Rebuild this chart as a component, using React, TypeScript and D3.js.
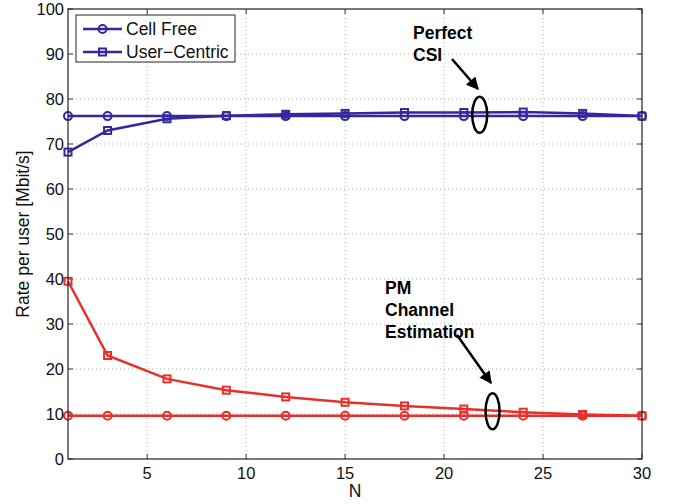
import React from 'react';
import * as d3 from 'd3';

// N values where points were computed
const nValues = [1, 3, 6, 9, 12, 15, 18, 21, 24, 27, 30];

// Perfect CSI
const cellFreePerfect = [76.2, 76.2, 76.2, 76.2, 76.2, 76.2, 76.2, 76.2, 76.2, 76.2, 76.2];
const userCentricPerfect = [68.2, 73.0, 75.6, 76.3, 76.6, 76.8, 77.0, 77.0, 77.1, 76.8, 76.2];

// PM channel estimation
const cellFreePM = [9.6, 9.6, 9.6, 9.6, 9.6, 9.6, 9.6, 9.6, 9.6, 9.6, 9.6];
const userCentricPM = [39.5, 23.0, 17.8, 15.3, 13.8, 12.6, 11.8, 11.1, 10.4, 9.9, 9.6];

const xTicks = [5, 10, 15, 20, 25, 30];
const yTicks = [0, 10, 20, 30, 40, 50, 60, 70, 80, 90, 100];

const BLUE = '#3428a0';
const RED = '#e8302b';

const W = 673;
const H = 504;
const margin = { left: 68, right: 31, top: 9, bottom: 45 };

export default function App() {
  const x = d3.scaleLinear().domain([1, 30]).range([margin.left, W - margin.right]);
  const y = d3.scaleLinear().domain([0, 100]).range([H - margin.bottom, margin.top]);

  const line = d3
    .line<number>()
    .x((_, i) => x(nValues[i]))
    .y((d) => y(d));

  const font = '"Liberation Sans", Arial, Helvetica, sans-serif';

  const series = [
    { vals: cellFreePerfect, color: BLUE, marker: 'o' },
    { vals: userCentricPerfect, color: BLUE, marker: 's' },
    { vals: cellFreePM, color: RED, marker: 'o' },
    { vals: userCentricPM, color: RED, marker: 's' },
  ];

  const marker = (kind: string, cx: number, cy: number, color: string, key: string) =>
    kind === 'o' ? (
      <circle key={key} cx={cx} cy={cy} r={4} fill="none" stroke={color} strokeWidth={2} />
    ) : (
      <rect key={key} x={cx - 3.5} y={cy - 3.5} width={7} height={7} fill="none" stroke={color} strokeWidth={2} />
    );

  const x0 = margin.left;
  const x1 = W - margin.right;
  const y0 = H - margin.bottom;
  const y1 = margin.top;

  return (
    <svg
      width={W}
      height={H}
      style={{ position: 'absolute', left: 0, top: 0, background: '#fff' }}
      fontFamily={font}
    >
      {/* grid */}
      <g stroke="#b0b0b0" strokeWidth={1} strokeDasharray="1,3">
        {xTicks.filter((t) => t < 30).map((t) => (
          <line key={'gx' + t} x1={x(t)} x2={x(t)} y1={y0} y2={y1} />
        ))}
        {yTicks.filter((t) => t > 0 && t < 100).map((t) => (
          <line key={'gy' + t} x1={x0} x2={x1} y1={y(t)} y2={y(t)} />
        ))}
      </g>

      {/* tick marks (inside, on all four sides) */}
      <g stroke="#333" strokeWidth={1}>
        {xTicks.map((t) => (
          <g key={'tx' + t}>
            <line x1={x(t)} x2={x(t)} y1={y0} y2={y0 - 5} />
            <line x1={x(t)} x2={x(t)} y1={y1} y2={y1 + 5} />
          </g>
        ))}
        {yTicks.map((t) => (
          <g key={'ty' + t}>
            <line x1={x0} x2={x0 + 5} y1={y(t)} y2={y(t)} />
            <line x1={x1} x2={x1 - 5} y1={y(t)} y2={y(t)} />
          </g>
        ))}
      </g>

      {/* data */}
      {series.map((s, si) => (
        <g key={'s' + si}>
          <path d={line(s.vals) ?? ''} fill="none" stroke={s.color} strokeWidth={2.5} />
          {s.vals.map((v, i) => marker(s.marker, x(nValues[i]), y(v), s.color, `m${si}-${i}`))}
        </g>
      ))}

      {/* axes box */}
      <rect x={x0} y={y1} width={x1 - x0} height={y0 - y1} fill="none" stroke="#222" strokeWidth={1.2} />

      {/* tick labels */}
      <g fontSize={16.5} fill="#111">
        {xTicks.map((t) => (
          <text key={'lx' + t} x={x(t)} y={y0 + 20} textAnchor="middle">
            {t}
          </text>
        ))}
        {yTicks.map((t) => (
          <text key={'ly' + t} x={x0 - 4} y={y(t) + 6} textAnchor="end">
            {t}
          </text>
        ))}
      </g>

      {/* axis labels */}
      <text x={(x0 + x1) / 2} y={H - 7} fontSize={17.5} textAnchor="middle" fill="#111">
        N
      </text>
      <text
        transform={`translate(29,${(y0 + y1) / 2}) rotate(-90)`}
        fontSize={17.5}
        textAnchor="middle"
        fill="#111"
      >
        Rate per user [Mbit/s]
      </text>

      {/* legend */}
      <g>
        <rect x={76} y={15} width={159} height={47} fill="#fff" stroke="#222" strokeWidth={1} />
        <line x1={83} x2={122} y1={29} y2={29} stroke={BLUE} strokeWidth={2.5} />
        {marker('o', 102.5, 29, BLUE, 'lg1')}
        <text x={126} y={35} fontSize={17.5} fill="#111">
          Cell Free
        </text>
        <line x1={83} x2={122} y1={52} y2={52} stroke={BLUE} strokeWidth={2.5} />
        {marker('s', 102.5, 52, BLUE, 'lg2')}
        <text x={126} y={58} fontSize={17.5} fill="#111">
          User−Centric
        </text>
      </g>

      {/* annotations */}
      <defs>
        <marker id="arrow" viewBox="0 0 10 10" refX={9} refY={5} markerWidth={5} markerHeight={5} orient="auto">
          <path d="M0,0 L10,5 L0,10 z" fill="#000" />
        </marker>
      </defs>
      <g fontSize={17.5} fontWeight="bold" fill="#000">
        <text x={413} y={39}>Perfect</text>
        <text x={413} y={61}>CSI</text>
        <text x={385} y={294}>PM</text>
        <text x={385} y={316}>Channel</text>
        <text x={385} y={338}>Estimation</text>
      </g>
      <line x1={452} y1={59} x2={478} y2={89} stroke="#000" strokeWidth={2.5} markerEnd="url(#arrow)" />
      <ellipse cx={x(21.8)} cy={y(76.5)} rx={7.5} ry={18} fill="none" stroke="#000" strokeWidth={2.5} />
      <line x1={457} y1={335} x2={491} y2={383} stroke="#000" strokeWidth={2.5} markerEnd="url(#arrow)" />
      <ellipse cx={x(22.45)} cy={y(10.6)} rx={7} ry={18} fill="none" stroke="#000" strokeWidth={2.5} />
    </svg>
  );
}
